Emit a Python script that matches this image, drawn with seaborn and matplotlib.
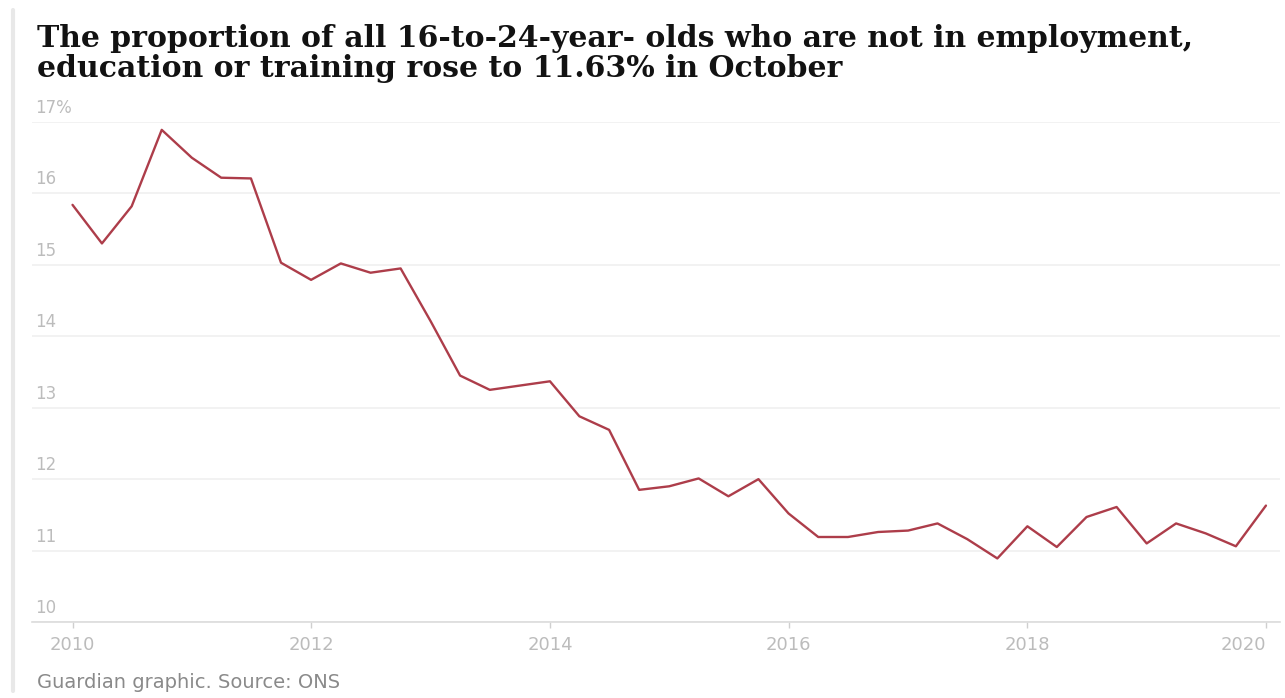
import numpy as np
import pandas as pd
import matplotlib
matplotlib.use("Agg")
import matplotlib.pyplot as plt
from matplotlib.lines import Line2D
import seaborn as sns

# ---- data (quarterly, share of 16-24 year olds who are NEET, %) ----
quarters = pd.period_range("2010Q1", "2020Q1", freq="Q")
neet_rate = [15.84, 15.30, 15.82, 16.89, 16.50, 16.22, 16.21, 15.03, 14.79, 15.02,
             14.89, 14.95, 14.21, 13.45, 13.25, 13.31, 13.37, 12.88, 12.69, 11.85,
             11.90, 12.01, 11.76, 12.00, 11.52, 11.19, 11.19, 11.26, 11.28, 11.38,
             11.16, 10.89, 11.34, 11.05, 11.47, 11.61, 11.10, 11.38, 11.24, 11.06,
             11.63]
y_ticks = [10, 11, 12, 13, 14, 15, 16, 17]
y_labels = ["10", "11", "12", "13", "14", "15", "16", "17%"]
x_tick_years = [2010, 2012, 2014, 2016, 2018, 2020]

title_lines = ["The proportion of all 16-to-24-year- olds who are not in employment,",
               "education or training rose to 11.63% in October"]
source = "Guardian graphic. Source: ONS"

df = pd.DataFrame({"date": quarters.to_timestamp(), "rate": neet_rate})

sns.set_theme(style="white")
plt.rcParams["font.family"] = ["DejaVu Sans"]

W, H = 1285, 698
fig = plt.figure(figsize=(W / 100, H / 100), dpi=100)
fig.patch.set_facecolor("white")

# axes: left 32px, right 1280px, bottom y=622px, top y=122px
ax = fig.add_axes([32 / W, (H - 622) / H, (1280 - 32) / W, 500 / H])
ax.set_facecolor("white")

sns.lineplot(data=df, x="date", y="rate", ax=ax, color="#ad3d4a",
             linewidth=1.7, zorder=3)

ax.set_ylim(10, 17)
ax.set_xlim(pd.Timestamp("2009-08-30"), pd.Timestamp("2020-02-13"))

# gridlines
ax.set_yticks(y_ticks)
ax.yaxis.grid(True, color="#f0f0f0", linewidth=1.2)
ax.xaxis.grid(False)
ax.tick_params(axis="y", left=False, labelleft=False)

# y labels sitting above the gridlines, inside the plot on the left
for v, lab in zip(y_ticks, y_labels):
    ax.text(3 / (1280 - 32), v + 0.07, lab, transform=ax.get_yaxis_transform(),
            ha="left", va="bottom", fontsize=12, color="#bcbcbc",
            clip_on=False)

# x ticks
ax.set_xticks([pd.Timestamp(f"{y}-01-01") for y in x_tick_years])
ax.set_xticklabels([str(y) for y in x_tick_years])
ax.tick_params(axis="x", bottom=True, length=4, width=1, color="#cfcfcf",
               labelsize=13, labelcolor="#bcbcbc", pad=6)
ax.get_xticklabels()[-1].set_horizontalalignment("right")
ax.set_xlabel("")
ax.set_ylabel("")

for side in ["top", "right", "left"]:
    ax.spines[side].set_visible(False)
ax.spines["bottom"].set_color("#dcdcdc")
ax.spines["bottom"].set_linewidth(1.2)

# title (two lines) and footer
for i, line in enumerate(title_lines):
    fig.text(37 / W, 1 - (47 + 30 * i) / H, line, ha="left", va="baseline",
             fontsize=21.5, fontweight="bold", family="DejaVu Serif",
             color="#121212")
fig.text(37 / W, 1 - 683 / H, source, ha="left", va="center", fontsize=14,
         color="#8a8a8a")

# faint page border on the left
fig.add_artist(Line2D([13 / W, 13 / W], [0.01, 0.985], transform=fig.transFigure,
                      color="#e8e8e8", linewidth=3))

fig.savefig("out.png", dpi=100, facecolor="white")
